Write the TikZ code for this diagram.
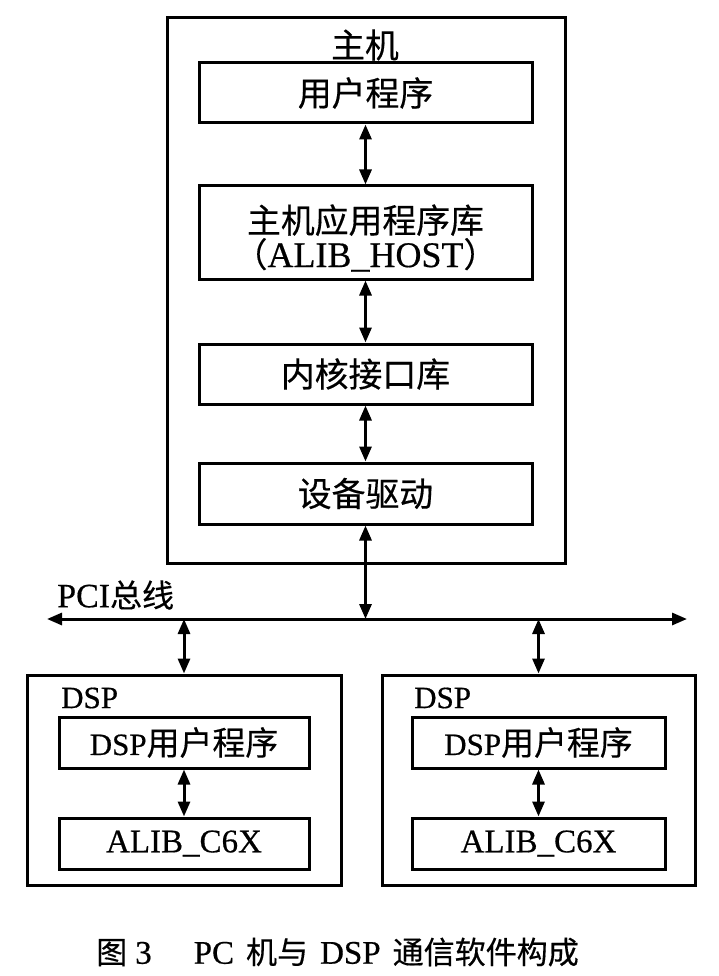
\documentclass[tikz,border=0pt]{standalone}
\usepackage{fontspec}
\setmainfont{Liberation Serif}[FakeBold=0.5]
\newfontfamily\cjk{Noto Sans CJK SC}[Scale=0.94,FakeBold=0.4]
\usetikzlibrary{arrows.meta}
\begin{document}
\begin{tikzpicture}[x=1pt,y=-1pt,
  box/.style={draw, line width=3pt, inner sep=0pt, align=center},
  lbl/.style={inner sep=0pt},
  tip/.tip={Triangle[length=15pt,width=12pt]},
  dbl/.style={line width=3pt, tip-tip},
  bigf/.style={font=\fontsize{36}{34}\selectfont},
  midf/.style={font=\fontsize{31}{33}\selectfont}]
\useasboundingbox (0,0) rectangle (719,976);
% host
\node[box, minimum width=398pt, minimum height=545pt] (host) at (366,290.5) {};
\node[lbl, bigf] (hostlbl) at (365,45) {\cjk 主机};
\node[box, bigf, minimum width=333pt, minimum height=60pt] (user) at (365.5,93) {\cjk 用户程序};
\node[box, minimum width=333pt, minimum height=93pt] (lib) at (365.5,232.5) {};
\node[lbl, bigf, align=center] (libtxt) at (365.5,238) {{\cjk 主机应用程序库}\\{\cjk （}ALIB\_HOST{\cjk ）}};
\node[box, bigf, minimum width=333pt, minimum height=60pt] (kern) at (365.5,374) {\cjk 内核接口库};
\node[box, bigf, minimum width=333pt, minimum height=61pt] (drv) at (365.5,493.5) {\cjk 设备驱动};
\draw[dbl] (user.south) -- (lib.north);
\draw[dbl] (lib.south) -- (kern.north);
\draw[dbl] (kern.south) -- (drv.north);
% bus
\coordinate (busL) at (47,619);
\coordinate (busR) at (687,619);
\draw[dbl] (busL) -- (busR);
\node[lbl, font=\fontsize{34}{34}\selectfont, anchor=west] (buslbl) at (57,595) {PCI{\cjk 总线}};
\draw[dbl] (drv.south) -- (drv.south |- busL);
% left DSP
\node[box, minimum width=314pt, minimum height=210pt] (dspL) at (184,780) {};
\node[lbl, midf, anchor=west] (dspLl) at (61,698) {DSP};
\node[box, midf, minimum width=250pt, minimum height=51pt] (uL) at (184,742.5) {DSP{\cjk\fontsize{35}{35}\selectfont 用户程序}};
\node[box, font=\fontsize{33}{33}\selectfont, minimum width=250pt, minimum height=51pt] (aL) at (184,843.5) {ALIB\_C6X};
\draw[dbl] (uL.south) -- (aL.north);
\draw[dbl] (dspL.north |- busL) -- (dspL.north);
% right DSP
\node[box, minimum width=313pt, minimum height=210pt] (dspR) at (538.5,780) {};
\node[lbl, midf, anchor=west] (dspRl) at (414,698) {DSP};
\node[box, midf, minimum width=253pt, minimum height=51pt] (uR) at (538.5,742.5) {DSP{\cjk\fontsize{35}{35}\selectfont 用户程序}};
\node[box, font=\fontsize{33}{33}\selectfont, minimum width=253pt, minimum height=51pt] (aR) at (538.5,843.5) {ALIB\_C6X};
\draw[dbl] (uR.south) -- (aR.north);
\draw[dbl] (dspR.north |- busL) -- (dspR.north);
% caption
\node[lbl, font=\fontsize{33}{33}\selectfont, anchor=west] (cap) at (96,952) {{\cjk 图}\hspace{8pt}3\hspace{42pt}PC\hspace{12pt}{\cjk 机与}\hspace{12pt}DSP\hspace{12pt}{\cjk 通信软件构成}};
\end{tikzpicture}
\end{document}
